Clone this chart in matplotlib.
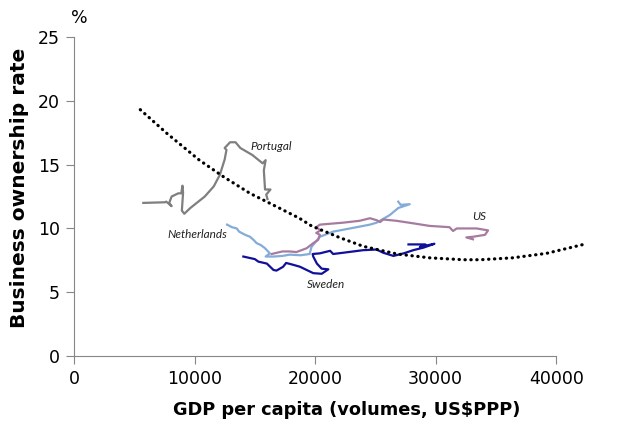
import matplotlib.pyplot as plt

# Portugal
pt_x = [5750, 7550, 7650, 8100, 7900, 8100, 8650, 8900, 9000, 9050, 8950, 9150, 9650,
        10850, 11600, 12100, 12500, 12650, 12500, 12950, 13400, 13800, 14800, 15650,
        15900, 15750, 15850, 16300, 15950, 16050]
pt_y = [12.0, 12.05, 12.1, 11.75, 12.0, 12.5, 12.75, 12.75, 13.35, 12.8, 11.4, 11.15, 11.6,
        12.5, 13.3, 14.2, 15.4, 16.15, 16.3, 16.75, 16.75, 16.3, 15.75, 15.1,
        15.35, 14.55, 13.05, 13.05, 12.65, 12.3]

# Netherlands
nl_x = [12700, 13100, 13500, 13700, 14200, 14600, 14900, 15150, 15500, 15850, 16250, 15900,
        16550, 17300, 17900, 18800, 19550, 19700, 20050, 20400, 21500, 22900, 24550,
        25100, 26200, 26900, 27850, 27100, 26900]
nl_y = [10.3, 10.1, 10.0, 9.75, 9.5, 9.35, 9.1, 8.85, 8.7, 8.45, 8.05, 7.8,
        7.8, 7.85, 7.95, 7.9, 8.0, 8.55, 8.95, 9.35, 9.75, 10.0, 10.3,
        10.45, 11.05, 11.6, 11.9, 11.85, 12.1]

# US
us_x = [16400, 17300, 17900, 18450, 19300, 19850, 20250, 20400, 20100, 20450, 20100, 20400,
        22300, 23700, 24550, 25100, 25400, 25650, 26750, 28150, 29500, 31150, 31450,
        31750, 33400, 34350, 34100, 33100, 32550, 33100]
us_y = [8.0, 8.2, 8.2, 8.15, 8.45, 8.85, 9.1, 9.5, 9.65, 9.85, 10.1, 10.3,
        10.45, 10.6, 10.8, 10.65, 10.5, 10.7, 10.6, 10.4, 10.2, 10.1, 9.8,
        10.0, 10.0, 9.85, 9.5, 9.35, 9.3, 9.15]

# Sweden
se_x = [14050, 15000, 15300, 16000, 16550, 16800, 17350, 17600, 18200, 18750, 19300, 19850,
        20550, 21100, 20550, 20150, 19850, 19800, 20400, 21250, 21500, 22350, 24000,
        25100, 25650, 26500, 27350, 28150, 29000, 29900, 28700, 29150, 27750]
se_y = [7.8, 7.6, 7.4, 7.25, 6.75, 6.7, 7.0, 7.3, 7.15, 7.0, 6.75, 6.5,
        6.45, 6.8, 6.85, 7.25, 7.8, 8.0, 8.05, 8.25, 8.0, 8.1, 8.3,
        8.35, 8.1, 7.85, 8.05, 8.3, 8.5, 8.8, 8.55, 8.75, 8.75]

# trend line
tr_x = [5500, 7700, 10400, 12400, 14600, 16500, 18700, 19700, 22000, 24000, 26800,
        29500, 32300, 33700, 36400, 39200, 42500]
tr_y = [19.3, 17.45, 15.35, 14.05, 12.75, 11.85, 10.8, 10.2, 9.3, 8.6, 8.0,
        7.7, 7.55, 7.55, 7.7, 8.05, 8.8]

labels = ['Portugal', 'Netherlands', 'US', 'Sweden']
label_x = [16350, 10200, 33650, 20950]
label_y = [16.4, 9.5, 10.9, 5.65]

fig = plt.figure(figsize=(6.27, 4.24), dpi=100)
ax = fig.add_axes([0.118, 0.160, 0.769, 0.753])

lw = 1.6
ax.plot(pt_x, pt_y, color='#7f7f7f', lw=lw)
ax.plot(nl_x, nl_y, color='#84acd8', lw=lw)
ax.plot(us_x, us_y, color='#a77ba0', lw=lw)
ax.plot(se_x, se_y, color='#10109a', lw=lw)
ax.plot(tr_x, tr_y, color='black', lw=2.3, linestyle=(0, (0.1, 1.75)),
        dash_capstyle='round', clip_on=False)

for name, x, y in zip(labels, label_x, label_y):
    ax.text(x, y, name, fontsize=8.5, style='italic', family='Lato',
            ha='center', va='center', color='#222222')

ax.set_xlim(0, 40000)
ax.set_ylim(0, 25)
ax.set_xticks([0, 10000, 20000, 30000, 40000])
ax.set_yticks([0, 5, 10, 15, 20, 25])
ax.tick_params(labelsize=12.5, length=6, color='#868686', pad=4)
for s in ['top', 'right']:
    ax.spines[s].set_visible(False)
for s in ['left', 'bottom']:
    ax.spines[s].set_color('#868686')

ax.set_xlabel('GDP per capita (volumes, US$PPP)', fontsize=12.8, fontweight='bold')
ax.xaxis.set_label_coords(0.566, -0.142)
ax.set_ylabel('Business ownership rate', fontsize=14.5, fontweight='bold')
ax.yaxis.set_label_coords(-0.094, 0.527)
ax.text(0.012, 1.06, '%', transform=ax.transAxes, fontsize=12.5, ha='center', va='center')

fig.savefig('out.png', dpi=100)
